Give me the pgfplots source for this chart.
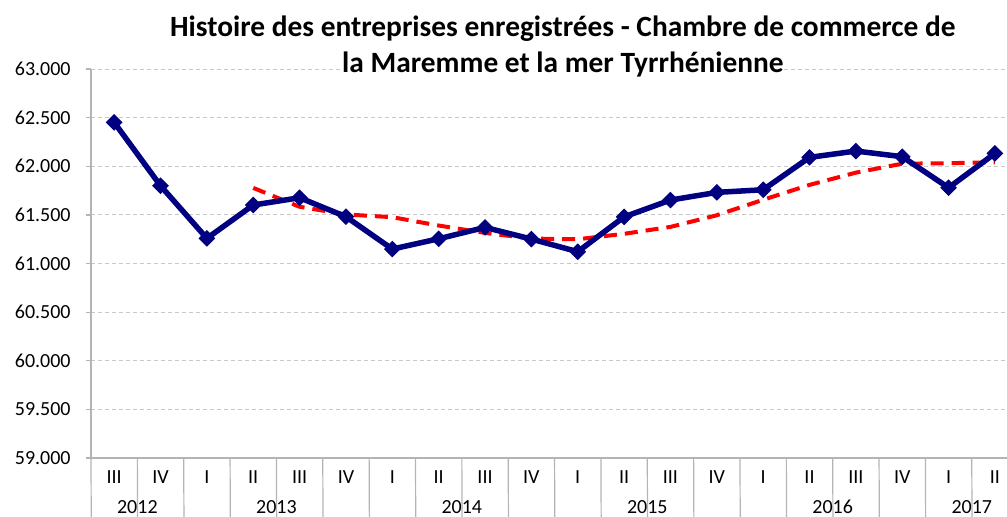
\documentclass[border=0pt]{standalone}
\usepackage{fontspec}
\setmainfont{Carlito}
\usepackage{pgfplots}
\pgfplotsset{compat=1.18}
\definecolor{navyline}{HTML}{000080}
\definecolor{gridc}{HTML}{C8C8C8}
\definecolor{axisc}{HTML}{B4B4B4}
\begin{document}
\begin{tikzpicture}
\useasboundingbox (-45.5pt,-29.5pt) rectangle (458pt,229pt);
\begin{axis}[
  at={(0,0)}, anchor=south west,
  scale only axis, width=458pt, height=194.5pt,
  xmin=-0.5, xmax=19.26, ymin=59000, ymax=63000,
  axis x line*=bottom, axis y line*=left,
  axis line style={draw=axisc, line width=0.6pt},
  xtick=\empty,
  ytick={59000,59500,...,63000},
  scaled y ticks=false,
  yticklabel={\pgfmathprintnumber[fixed,precision=0,1000 sep={.}]{\tick}},
  /pgf/number format/assume math mode=true,
  tick align=outside, major tick length=2.5pt,
  y tick style={draw=axisc, line width=0.6pt},
  yticklabel style={font=\fontsize{10}{12}\selectfont, anchor=east, inner sep=0pt, xshift=-7.5pt},
  ymajorgrids, grid style={draw=gridc, line width=0.5pt, dash pattern=on 2pt off 1.5pt},
  clip=false,
]
\addplot[red, line width=2pt, dash pattern=on 6.5pt off 4pt] coordinates {
 (3,61778) (4,61584) (5,61505) (6,61477) (7,61391) (8,61315) (9,61257)
 (10,61250) (11,61306) (12,61377) (13,61497) (14,61656) (15,61809)
 (16,61935) (17,62027) (18,62032) (19,62042)};
\addplot[navyline, line width=2.75pt, mark=square*, mark size=2.7pt,
  mark options={solid, rotate=45, line width=0.5pt, fill=navyline}] coordinates {
 (0,62452) (1,61800) (2,61259) (3,61602) (4,61677) (5,61482) (6,61149)
 (7,61255) (8,61372) (9,61252) (10,61122) (11,61480) (12,61653) (13,61732)
 (14,61759) (15,62092) (16,62157) (17,62099) (18,61780) (19,62133)};
% category separators
\foreach \s in {0.5,2.5,3.5,4.5,6.5,7.5,8.5,10.5,11.5,12.5,14.5,15.5,16.5,18.5}{
  \edef\tmp{\noexpand\draw[axisc, line width=0.6pt] (axis cs:\s,59000) -- ++(0,-16pt);}\tmp}
\foreach \s in {-0.5,1.5,5.5,9.5,13.5,17.5}{
  \edef\tmp{\noexpand\draw[axisc, line width=0.6pt] (axis cs:\s,59000) -- ++(0,-31pt);}\tmp}
% quarter labels
\foreach \i/\q in {0/III,1/IV,2/I,3/II,4/III,5/IV,6/I,7/II,8/III,9/IV,10/I,11/II,12/III,13/IV,14/I,15/II,16/III,17/IV,18/I,19/II}{
  \edef\tmp{\noexpand\node[anchor=base, inner sep=0pt, font=\noexpand\fontsize{10}{12}\noexpand\selectfont, yshift=-12.5pt] at (axis cs:\i,59000) {\q};}\tmp}
\foreach \i/\y in {0.5/2012,3.5/2013,7.5/2014,11.5/2015,15.5/2016,18.5/2017}{
  \edef\tmp{\noexpand\node[anchor=base, inner sep=0pt, font=\noexpand\fontsize{10}{12}\noexpand\selectfont, yshift=-27.8pt] at (axis cs:\i,59000) {\y};}\tmp}
\end{axis}
\node[anchor=base, inner sep=0pt, font=\bfseries\fontsize{14.7}{17}\selectfont] at (236pt,210.5pt) {Histoire des entreprises enregistrées - Chambre de commerce de};
\node[anchor=base, inner sep=0pt, outer sep=0pt, fill=white, font=\bfseries\fontsize{14.7}{17}\selectfont] at (236pt,192.5pt) {\strut la Maremme et la mer Tyrrhénienne};
\end{tikzpicture}
\end{document}
